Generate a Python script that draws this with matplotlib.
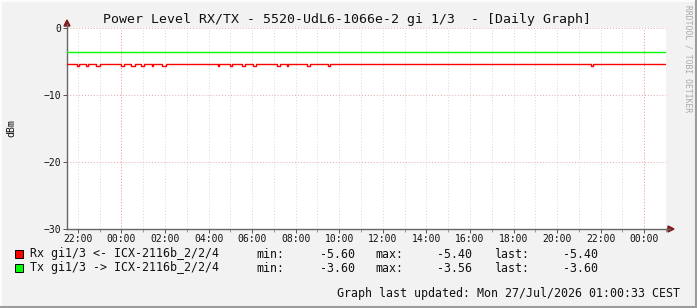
import matplotlib
matplotlib.use("Agg")
import matplotlib.pyplot as plt
import matplotlib.dates as mdates
from matplotlib.patches import Polygon, Rectangle
from matplotlib.lines import Line2D
from datetime import datetime

W, H = 697, 308

title = "Power Level RX/TX - 5520-UdL6-1066e-2 gi 1/3  - [Daily Graph]"
t_start = "2026-07-25 21:30"
t_end = "2026-07-27 01:00"

# Rx sits at -5.40 with short drops to -5.60
rx_base = -5.40
rx_low = -5.60
rx_dips = [
    ("2026-07-25 21:58", "2026-07-25 22:02"),
    ("2026-07-25 22:23", "2026-07-25 22:27"),
    ("2026-07-25 22:51", "2026-07-25 23:00"),
    ("2026-07-26 00:00", "2026-07-26 00:08"),
    ("2026-07-26 00:25", "2026-07-26 00:36"),
    ("2026-07-26 00:55", "2026-07-26 01:01"),
    ("2026-07-26 01:24", "2026-07-26 01:28"),
    ("2026-07-26 01:53", "2026-07-26 02:04"),
    ("2026-07-26 04:25", "2026-07-26 04:30"),
    ("2026-07-26 05:00", "2026-07-26 05:04"),
    ("2026-07-26 05:31", "2026-07-26 05:40"),
    ("2026-07-26 06:01", "2026-07-26 06:10"),
    ("2026-07-26 07:08", "2026-07-26 07:16"),
    ("2026-07-26 07:35", "2026-07-26 07:38"),
    ("2026-07-26 08:30", "2026-07-26 08:39"),
    ("2026-07-26 09:28", "2026-07-26 09:34"),
    ("2026-07-26 21:34", "2026-07-26 21:38"),
]
tx_level = -3.60

y_ticks = [0, -10, -20, -30]

leg_labels = ["Rx gi1/3 <- ICX-2116b_2/2/4", "Tx gi1/3 -> ICX-2116b_2/2/4"]
leg_colors = ["#FF0000", "#00FF00"]
leg_min = ["-5.60", "-3.60"]
leg_max = ["-5.40", "-3.56"]
leg_last = ["-5.40", "-3.60"]
updated = "Graph last updated: Mon 27/Jul/2026 01:00:33 CEST"


def dt(s):
    return datetime.strptime(s, "%Y-%m-%d %H:%M")


def fx(x):
    return x / W


def fy(y):
    return 1 - y / H


mono = "DejaVu Sans Mono"
plt.rcParams['font.family'] = mono

fig = plt.figure(figsize=(W / 100, H / 100), dpi=100, facecolor="#F2F2F2")

# 3D-ish frame around the canvas
fig.add_artist(Line2D([0, 1], [fy(1), fy(1)], transform=fig.transFigure, color="#FCFCFC", lw=1.5))
fig.add_artist(Line2D([fx(1), fx(1)], [0, 1], transform=fig.transFigure, color="#FCFCFC", lw=1.5))
fig.add_artist(Line2D([0, 1], [fy(307), fy(307)], transform=fig.transFigure, color="#9C9C9C", lw=1.5))
fig.add_artist(Line2D([fx(696), fx(696)], [0, 1], transform=fig.transFigure, color="#9C9C9C", lw=1.5))

L, R, T, B = 67, 666, 28, 229
ax = fig.add_axes([fx(L), fy(B), (R - L) / W, (B - T) / H])
ax.set_facecolor("white")

# build step series
times = [dt(t_start)]
vals = [rx_base]
for s, e in rx_dips:
    times += [dt(s), dt(e)]
    vals += [rx_low, rx_base]
times.append(dt(t_end))
vals.append(rx_base)

ax.plot(times, vals, drawstyle="steps-post", color="#FF0000", lw=1.0, zorder=3)
ax.plot([dt(t_start), dt(t_end)], [tx_level, tx_level], color="#00FF00", lw=1.0, zorder=3)

ax.set_xlim(dt(t_start), dt(t_end))
ax.set_ylim(-30, 0)

# grid
dots = (0, (1, 2))
for h in mdates.drange(dt("2026-07-25 22:00"), dt(t_end), (dt("2026-07-25 23:00") - dt("2026-07-25 22:00"))):
    ax.axvline(h, color="#D8D8D8", lw=0.7, ls=dots, zorder=1)
for m in ["2026-07-26 00:00", "2026-07-27 00:00"]:
    ax.axvline(dt(m), color="#FF9A9A", lw=0.7, ls=dots, zorder=2)
for yv in y_ticks[:-1]:
    ax.axhline(yv, color="#E8A8A8", lw=0.7, ls=dots, zorder=2)

ax.xaxis.set_major_locator(mdates.HourLocator(byhour=range(0, 24, 2)))
ax.xaxis.set_major_formatter(mdates.DateFormatter("%H:%M"))
ax.xaxis.set_minor_locator(mdates.HourLocator())
ax.set_yticks(y_ticks)
ax.tick_params(axis="both", labelsize=7, colors="#555555", labelcolor="#111111", length=3, width=0.7, pad=1.5)
ax.tick_params(axis="x", which="major", pad=0.5)
ax.tick_params(axis="x", which="minor", length=2, width=0.7, colors="#999999")

for sp in ["top", "right"]:
    ax.spines[sp].set_visible(False)
for sp in ["left", "bottom"]:
    ax.spines[sp].set_color("#666666")
    ax.spines[sp].set_linewidth(1.0)

# axis extensions and arrows
fig.add_artist(Line2D([fx(R), fx(670)], [fy(B), fy(B)], transform=fig.transFigure, color="#666666", lw=1.0))
fig.add_artist(Line2D([fx(L), fx(L)], [fy(T), fy(24)], transform=fig.transFigure, color="#666666", lw=1.0))
fig.add_artist(Polygon([[fx(668), fy(226)], [fx(668), fy(232)], [fx(674), fy(229)]],
                       closed=True, transform=fig.transFigure, color="#7F1A1A"))
fig.add_artist(Polygon([[fx(64), fy(26)], [fx(70), fy(26)], [fx(67), fy(20)]],
                       closed=True, transform=fig.transFigure, color="#7F1A1A"))

fig.text(fx(347), fy(19), title, ha="center", va="center", fontsize=9.5, color="#111111")
fig.text(fx(11), fy(128), "dBm", rotation=90, ha="center", va="center", fontsize=7.2, color="#111111")
fig.text(fx(688), fy(5), "RRDTOOL / TOBI OETIKER", rotation=270, ha="center", va="top",
         fontsize=5.8, color="#A8A8A8")

for i, lab in enumerate(leg_labels):
    y = 254 + 14 * i
    fig.add_artist(Rectangle((fx(15), fy(y + 4)), 8 / W, 8 / H, transform=fig.transFigure,
                             facecolor=leg_colors[i], edgecolor="black", lw=0.7))
    kw = dict(va="center", fontsize=8.35, color="#111111")
    fig.text(fx(30), fy(y), lab, ha="left", **kw)
    fig.text(fx(256), fy(y), "min:", ha="left", **kw)
    fig.text(fx(355), fy(y), leg_min[i], ha="right", **kw)
    fig.text(fx(375), fy(y), "max:", ha="left", **kw)
    fig.text(fx(472), fy(y), leg_max[i], ha="right", **kw)
    fig.text(fx(494), fy(y), "last:", ha="left", **kw)
    fig.text(fx(598), fy(y), leg_last[i], ha="right", **kw)

fig.text(fx(680), fy(294), updated, ha="right", va="center", fontsize=8.35, color="#111111")

fig.savefig("out.png", dpi=100, facecolor=fig.get_facecolor())
